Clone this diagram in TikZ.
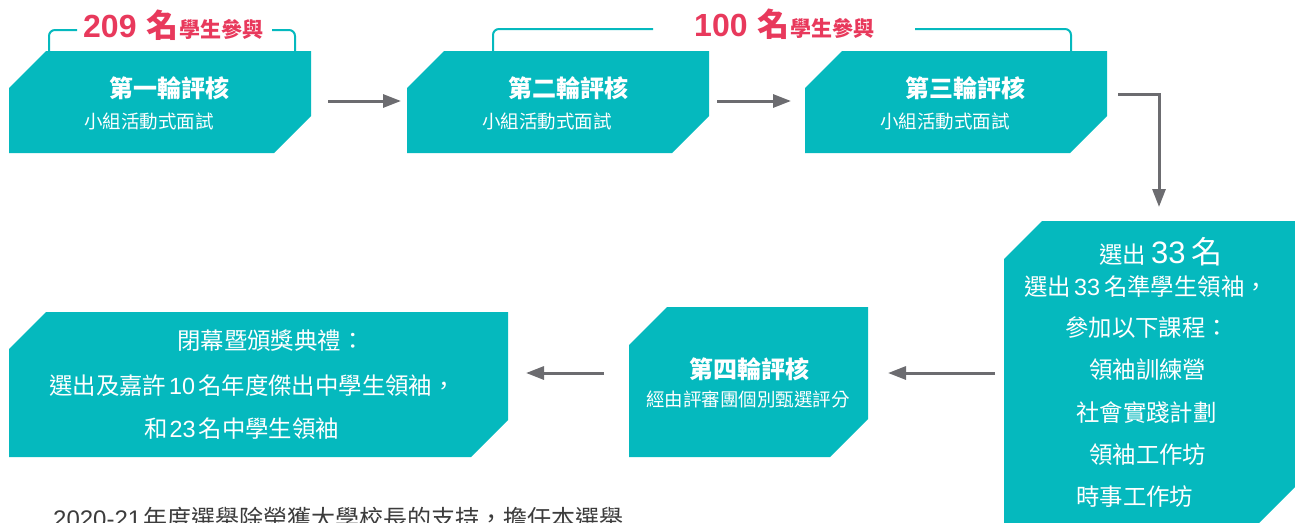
\documentclass[tikz,border=0pt]{standalone}
\usepackage{fontspec}
\setmainfont{Noto Sans CJK TC}
\newfontfamily\lat{Liberation Sans}
\usetikzlibrary{arrows.meta,calc}
\definecolor{tealc}{RGB}{5,185,190}
\definecolor{redc}{RGB}{232,57,92}
\definecolor{arrc}{RGB}{108,108,112}
\definecolor{txtc}{RGB}{60,60,60}
\newcommand\chamf[2]{\fill[tealc] ($(#1.north west)+(0,#2)$) -- ($(#1.north west)+(#2,0)$) -- (#1.north east) -- ($(#1.south east)+(0,-#2)$) -- ($(#1.south east)+(-#2,0)$) -- (#1.south west) -- cycle;}
\newcommand\fs[1]{\fontsize{#1}{#1}\selectfont}
\newcommand\num[1]{{\lat #1}}
\begin{document}
\begin{tikzpicture}[x=1pt,y=-1pt,
  boxnode/.style={inner sep=0pt,outer sep=0pt,draw=none,rectangle},
  ttl/.style={inner sep=0pt,anchor=west,text=white,font=\fs{24}\bfseries},
  sub/.style={inner sep=0pt,anchor=west,text=white,font=\fs{18.5}},
  big/.style={inner sep=0pt,anchor=west,text=white,font=\fs{23.4}},
  arr/.style={draw=arrc,line width=3pt,-{Triangle[length=18pt,width=13pt]}},
  brk/.style={draw=tealc,line width=2pt,rounded corners=6pt},
  lbl/.style={inner sep=0pt,anchor=base west,text=redc}]
\useasboundingbox (0,0) rectangle (1295,522);
% box frames
\node[boxnode,minimum width=302pt,minimum height=102pt] (b1) at (160,102) {};
\node[boxnode,minimum width=302pt,minimum height=102pt] (b2) at (558,102) {};
\node[boxnode,minimum width=302pt,minimum height=102pt] (b3) at (956,102) {};
\node[boxnode,minimum width=310pt,minimum height=304pt] (b4) at (1159,373) {};
\node[boxnode,minimum width=239pt,minimum height=150pt] (b5) at (748.5,382) {};
\node[boxnode,minimum width=499pt,minimum height=145pt] (b6) at (258.5,384.5) {};
\chamf{b1}{37}
\chamf{b2}{37}
\chamf{b3}{37}
\chamf{b5}{38}
\chamf{b6}{37}
\fill[tealc] ($(b4.north west)+(0,38)$) -- ($(b4.north west)+(38,0)$) -- (1300,221) -- (1300,482) -- (1257,525) -- (b4.south west) -- cycle;
% brackets
\draw[brk] (77,30) -- (49,30) -- (49,51);
\draw[brk] (272,30) -- (295,30) -- (295,51);
\draw[brk] (653,29) -- (493,29) -- (493,51);
\draw[brk] (915,29) -- (1071,29) -- (1071,51);
\node[lbl] (l1) at (83,37) {\fs{32}\bfseries\num{209}\hspace{10pt}名\hspace{1pt}\fs{21}學生參與};
\node[lbl] (l2) at (694,36) {\fs{32}\bfseries\num{100}\hspace{10pt}名\hspace{1pt}\fs{21}學生參與};
% texts
\node[ttl] (t1) at (109,88) {第一輪評核};
\node[sub] (s1) at (84,121) {小組活動式面試};
\node[ttl] (t2) at (508,88) {第二輪評核};
\node[sub] (s2) at (482,121) {小組活動式面試};
\node[ttl] (t3) at (905,88) {第三輪評核};
\node[sub] (s3) at (880,121) {小組活動式面試};
\node[ttl] (t5) at (689,369) {第四輪評核};
\node[sub] (s5) at (646,399) {經由評審團個別甄選評分};
\node[big] (q1) at (1099,252) {選出\hspace{5pt}{\fs{31}\num{33}\hspace{6pt}名}};
\node[big] (q2) at (1024,287) {選出\hspace{3pt}\num{33}\hspace{4pt}名準學生領袖，};
\node[big] (q3) at (1065,328) {參加以下課程：};
\node[big] (q4) at (1089,370) {領袖訓練營};
\node[big] (q5) at (1076,413) {社會實踐計劃};
\node[big] (q6) at (1089,455) {領袖工作坊};
\node[big] (q7) at (1076,497) {時事工作坊};
\node[big] (r1) at (177,341) {閉幕暨頒獎典禮：};
\node[big] (r2) at (49,386) {選出及嘉許\hspace{3pt}\num{10}\hspace{3pt}名年度傑出中學生領袖，};
\node[big] (r3) at (144,429) {和\hspace{2pt}\num{23}\hspace{3pt}名中學生領袖};
\node[big,text=txtc,font=\fs{24}] (bt) at (53,518) {\num{2020-21}\hspace{2pt}年度選舉除榮獲大學校長的支持，擔任本選舉};
% arrows
\draw[arr] ([xshift=17pt,yshift=1pt]b1.east) -- ([xshift=-6pt,yshift=1pt]b2.west);
\draw[arr] ([xshift=8pt,yshift=1pt]b2.east) -- ([xshift=-14pt,yshift=1pt]b3.west);
\draw[arr] ([xshift=11pt,yshift=8pt]b3.east) -| ([yshift=14pt]b4.north);
\draw[arr] ([xshift=-9pt]b4.west) -- ([xshift=20pt]b5.east |- b4.west);
\draw[arr] ([xshift=-25pt]b5.west |- b4.west) -- ([xshift=18pt]b6.east |- b4.west);
\end{tikzpicture}
\end{document}
